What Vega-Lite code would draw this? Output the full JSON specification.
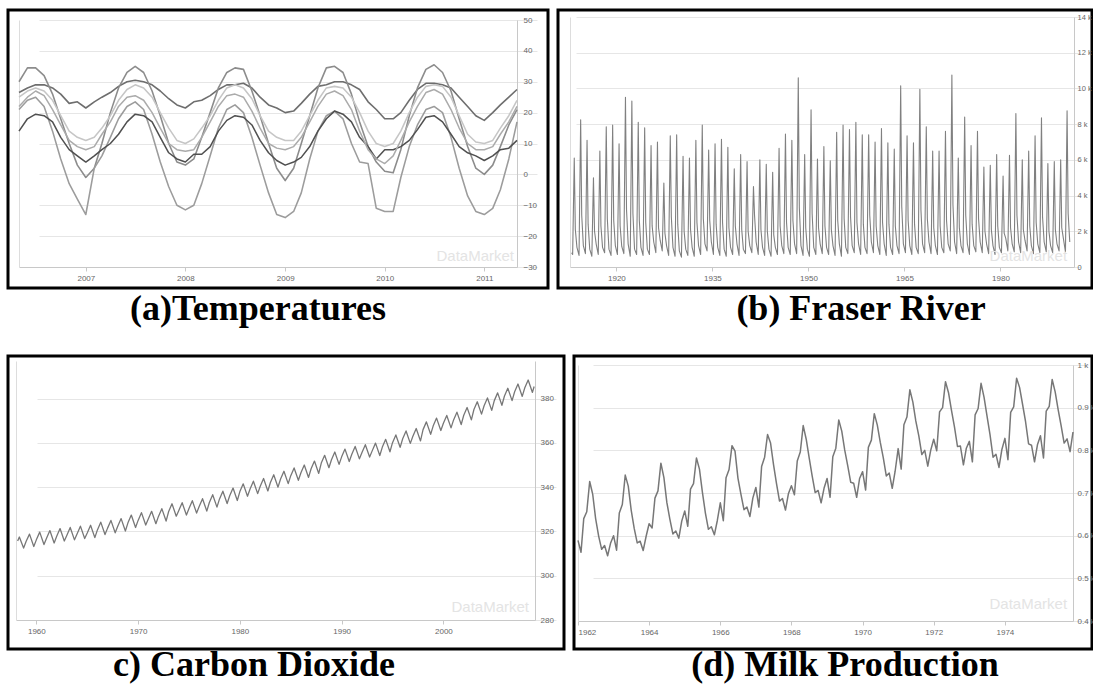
{
"$schema": "https://vega.github.io/schema/vega-lite/v6.json",
"padding": {"left": 6, "top": 8, "right": 0, "bottom": 0},
"background": "white",
"config": {
  "view": {"stroke": "#000000", "strokeWidth": 3},
  "axis": {"labelFont": "Liberation Sans", "labelFontSize": 8, "labelColor": "#666666", "title": null, "domainColor": "#c8c8c8", "tickColor": "#c8c8c8", "gridColor": "#e6e6e6"},
  "title": {"font": "Liberation Serif", "fontWeight": "bold", "fontSize": 36, "color": "#000000", "orient": "bottom", "anchor": "middle"},
  "line": {"strokeJoin": "round"},
  "text": {"font": "Liberation Sans", "fontSize": 15, "color": "#e4e4e4", "align": "right", "baseline": "middle"}
},
"datasets": {
"temps": [
{"d":"2006-05","s":"A","v":26.5},{"d":"2006-06","s":"A","v":28},{"d":"2006-07","s":"A","v":29},{"d":"2006-08","s":"A","v":29},{"d":"2006-09","s":"A","v":28},{"d":"2006-10","s":"A","v":26},{"d":"2006-11","s":"A","v":23},{"d":"2006-12","s":"A","v":23.5},
{"d":"2007-01","s":"A","v":21.5},{"d":"2007-02","s":"A","v":23.5},{"d":"2007-03","s":"A","v":25},{"d":"2007-04","s":"A","v":26.5},{"d":"2007-05","s":"A","v":28.5},{"d":"2007-06","s":"A","v":30},{"d":"2007-07","s":"A","v":30.5},{"d":"2007-08","s":"A","v":30},{"d":"2007-09","s":"A","v":29},{"d":"2007-10","s":"A","v":27},{"d":"2007-11","s":"A","v":24.5},{"d":"2007-12","s":"A","v":22.5},
{"d":"2008-01","s":"A","v":21.5},{"d":"2008-02","s":"A","v":23.5},{"d":"2008-03","s":"A","v":24},{"d":"2008-04","s":"A","v":25.5},{"d":"2008-05","s":"A","v":27.5},{"d":"2008-06","s":"A","v":29},{"d":"2008-07","s":"A","v":29},{"d":"2008-08","s":"A","v":29.5},{"d":"2008-09","s":"A","v":28},{"d":"2008-10","s":"A","v":25},{"d":"2008-11","s":"A","v":22.5},{"d":"2008-12","s":"A","v":21.5},
{"d":"2009-01","s":"A","v":20},{"d":"2009-02","s":"A","v":20.5},{"d":"2009-03","s":"A","v":23},{"d":"2009-04","s":"A","v":26},{"d":"2009-05","s":"A","v":28.5},{"d":"2009-06","s":"A","v":29},{"d":"2009-07","s":"A","v":30},{"d":"2009-08","s":"A","v":30},{"d":"2009-09","s":"A","v":29},{"d":"2009-10","s":"A","v":27.5},{"d":"2009-11","s":"A","v":23.5},{"d":"2009-12","s":"A","v":21},
{"d":"2010-01","s":"A","v":18},{"d":"2010-02","s":"A","v":18},{"d":"2010-03","s":"A","v":20},{"d":"2010-04","s":"A","v":24},{"d":"2010-05","s":"A","v":27.5},{"d":"2010-06","s":"A","v":29.5},{"d":"2010-07","s":"A","v":29.5},{"d":"2010-08","s":"A","v":29},{"d":"2010-09","s":"A","v":28},{"d":"2010-10","s":"A","v":25},{"d":"2010-11","s":"A","v":22},{"d":"2010-12","s":"A","v":19},
{"d":"2011-01","s":"A","v":17.5},{"d":"2011-02","s":"A","v":20},{"d":"2011-03","s":"A","v":22.5},{"d":"2011-04","s":"A","v":25},{"d":"2011-05","s":"A","v":27.5},
{"d":"2006-05","s":"B","v":30},{"d":"2006-06","s":"B","v":34.5},{"d":"2006-07","s":"B","v":34.5},{"d":"2006-08","s":"B","v":32},{"d":"2006-09","s":"B","v":26},{"d":"2006-10","s":"B","v":18},{"d":"2006-11","s":"B","v":10},{"d":"2006-12","s":"B","v":3},
{"d":"2007-01","s":"B","v":-1},{"d":"2007-02","s":"B","v":2},{"d":"2007-03","s":"B","v":10},{"d":"2007-04","s":"B","v":20},{"d":"2007-05","s":"B","v":28},{"d":"2007-06","s":"B","v":33},{"d":"2007-07","s":"B","v":35},{"d":"2007-08","s":"B","v":33},{"d":"2007-09","s":"B","v":27},{"d":"2007-10","s":"B","v":19},{"d":"2007-11","s":"B","v":10},{"d":"2007-12","s":"B","v":4},
{"d":"2008-01","s":"B","v":3},{"d":"2008-02","s":"B","v":5},{"d":"2008-03","s":"B","v":12},{"d":"2008-04","s":"B","v":20},{"d":"2008-05","s":"B","v":28},{"d":"2008-06","s":"B","v":33},{"d":"2008-07","s":"B","v":34.5},{"d":"2008-08","s":"B","v":34},{"d":"2008-09","s":"B","v":27},{"d":"2008-10","s":"B","v":19},{"d":"2008-11","s":"B","v":10},{"d":"2008-12","s":"B","v":2},
{"d":"2009-01","s":"B","v":-2},{"d":"2009-02","s":"B","v":2},{"d":"2009-03","s":"B","v":10},{"d":"2009-04","s":"B","v":19},{"d":"2009-05","s":"B","v":28},{"d":"2009-06","s":"B","v":34.5},{"d":"2009-07","s":"B","v":35},{"d":"2009-08","s":"B","v":33},{"d":"2009-09","s":"B","v":26},{"d":"2009-10","s":"B","v":17},{"d":"2009-11","s":"B","v":9},{"d":"2009-12","s":"B","v":4},
{"d":"2010-01","s":"B","v":1},{"d":"2010-02","s":"B","v":0.5},{"d":"2010-03","s":"B","v":8},{"d":"2010-04","s":"B","v":19},{"d":"2010-05","s":"B","v":28},{"d":"2010-06","s":"B","v":34},{"d":"2010-07","s":"B","v":35.5},{"d":"2010-08","s":"B","v":33},{"d":"2010-09","s":"B","v":27},{"d":"2010-10","s":"B","v":18},{"d":"2010-11","s":"B","v":9},{"d":"2010-12","s":"B","v":2},
{"d":"2011-01","s":"B","v":0},{"d":"2011-02","s":"B","v":3},{"d":"2011-03","s":"B","v":9},{"d":"2011-04","s":"B","v":16},{"d":"2011-05","s":"B","v":21},
{"d":"2006-05","s":"C","v":21},{"d":"2006-06","s":"C","v":24},{"d":"2006-07","s":"C","v":25},{"d":"2006-08","s":"C","v":22},{"d":"2006-09","s":"C","v":14},{"d":"2006-10","s":"C","v":5},{"d":"2006-11","s":"C","v":-3},{"d":"2006-12","s":"C","v":-8},
{"d":"2007-01","s":"C","v":-13},{"d":"2007-02","s":"C","v":2},{"d":"2007-03","s":"C","v":6},{"d":"2007-04","s":"C","v":12},{"d":"2007-05","s":"C","v":18},{"d":"2007-06","s":"C","v":22},{"d":"2007-07","s":"C","v":23.5},{"d":"2007-08","s":"C","v":21},{"d":"2007-09","s":"C","v":13},{"d":"2007-10","s":"C","v":4},{"d":"2007-11","s":"C","v":-4},{"d":"2007-12","s":"C","v":-10},
{"d":"2008-01","s":"C","v":-11.5},{"d":"2008-02","s":"C","v":-10},{"d":"2008-03","s":"C","v":-3},{"d":"2008-04","s":"C","v":6},{"d":"2008-05","s":"C","v":15},{"d":"2008-06","s":"C","v":21},{"d":"2008-07","s":"C","v":22.5},{"d":"2008-08","s":"C","v":20},{"d":"2008-09","s":"C","v":12},{"d":"2008-10","s":"C","v":3},{"d":"2008-11","s":"C","v":-6},{"d":"2008-12","s":"C","v":-13},
{"d":"2009-01","s":"C","v":-14},{"d":"2009-02","s":"C","v":-12},{"d":"2009-03","s":"C","v":-6},{"d":"2009-04","s":"C","v":5},{"d":"2009-05","s":"C","v":14},{"d":"2009-06","s":"C","v":19},{"d":"2009-07","s":"C","v":20.5},{"d":"2009-08","s":"C","v":18},{"d":"2009-09","s":"C","v":10},{"d":"2009-10","s":"C","v":4},{"d":"2009-11","s":"C","v":3.5},{"d":"2009-12","s":"C","v":-11},
{"d":"2010-01","s":"C","v":-12},{"d":"2010-02","s":"C","v":-12},{"d":"2010-03","s":"C","v":-1},{"d":"2010-04","s":"C","v":9},{"d":"2010-05","s":"C","v":16},{"d":"2010-06","s":"C","v":21},{"d":"2010-07","s":"C","v":22},{"d":"2010-08","s":"C","v":20},{"d":"2010-09","s":"C","v":12},{"d":"2010-10","s":"C","v":2},{"d":"2010-11","s":"C","v":-7},{"d":"2010-12","s":"C","v":-12},
{"d":"2011-01","s":"C","v":-13},{"d":"2011-02","s":"C","v":-11},{"d":"2011-03","s":"C","v":-5},{"d":"2011-04","s":"C","v":5},{"d":"2011-05","s":"C","v":17},
{"d":"2006-05","s":"D","v":25},{"d":"2006-06","s":"D","v":27},{"d":"2006-07","s":"D","v":28},{"d":"2006-08","s":"D","v":27},{"d":"2006-09","s":"D","v":24},{"d":"2006-10","s":"D","v":19},{"d":"2006-11","s":"D","v":14},{"d":"2006-12","s":"D","v":12},
{"d":"2007-01","s":"D","v":11},{"d":"2007-02","s":"D","v":12},{"d":"2007-03","s":"D","v":15},{"d":"2007-04","s":"D","v":19},{"d":"2007-05","s":"D","v":24},{"d":"2007-06","s":"D","v":27.5},{"d":"2007-07","s":"D","v":29},{"d":"2007-08","s":"D","v":28},{"d":"2007-09","s":"D","v":25},{"d":"2007-10","s":"D","v":20},{"d":"2007-11","s":"D","v":15},{"d":"2007-12","s":"D","v":11},
{"d":"2008-01","s":"D","v":10},{"d":"2008-02","s":"D","v":11.5},{"d":"2008-03","s":"D","v":15},{"d":"2008-04","s":"D","v":19},{"d":"2008-05","s":"D","v":24},{"d":"2008-06","s":"D","v":28},{"d":"2008-07","s":"D","v":29},{"d":"2008-08","s":"D","v":28},{"d":"2008-09","s":"D","v":24.5},{"d":"2008-10","s":"D","v":19},{"d":"2008-11","s":"D","v":14},{"d":"2008-12","s":"D","v":12},
{"d":"2009-01","s":"D","v":11},{"d":"2009-02","s":"D","v":11},{"d":"2009-03","s":"D","v":14},{"d":"2009-04","s":"D","v":19},{"d":"2009-05","s":"D","v":24},{"d":"2009-06","s":"D","v":28},{"d":"2009-07","s":"D","v":28.5},{"d":"2009-08","s":"D","v":28},{"d":"2009-09","s":"D","v":25},{"d":"2009-10","s":"D","v":20},{"d":"2009-11","s":"D","v":14},{"d":"2009-12","s":"D","v":10},
{"d":"2010-01","s":"D","v":9},{"d":"2010-02","s":"D","v":10},{"d":"2010-03","s":"D","v":14},{"d":"2010-04","s":"D","v":20},{"d":"2010-05","s":"D","v":25},{"d":"2010-06","s":"D","v":28.5},{"d":"2010-07","s":"D","v":29},{"d":"2010-08","s":"D","v":28.5},{"d":"2010-09","s":"D","v":25},{"d":"2010-10","s":"D","v":19},{"d":"2010-11","s":"D","v":13},{"d":"2010-12","s":"D","v":10.5},
{"d":"2011-01","s":"D","v":10},{"d":"2011-02","s":"D","v":11},{"d":"2011-03","s":"D","v":15},{"d":"2011-04","s":"D","v":19},{"d":"2011-05","s":"D","v":24},
{"d":"2006-05","s":"E","v":14},{"d":"2006-06","s":"E","v":18},{"d":"2006-07","s":"E","v":19.5},{"d":"2006-08","s":"E","v":19},{"d":"2006-09","s":"E","v":17},{"d":"2006-10","s":"E","v":12},{"d":"2006-11","s":"E","v":8},{"d":"2006-12","s":"E","v":6},
{"d":"2007-01","s":"E","v":4},{"d":"2007-02","s":"E","v":6},{"d":"2007-03","s":"E","v":8},{"d":"2007-04","s":"E","v":10},{"d":"2007-05","s":"E","v":13},{"d":"2007-06","s":"E","v":17},{"d":"2007-07","s":"E","v":19.5},{"d":"2007-08","s":"E","v":19},{"d":"2007-09","s":"E","v":17},{"d":"2007-10","s":"E","v":12},{"d":"2007-11","s":"E","v":7},{"d":"2007-12","s":"E","v":5},
{"d":"2008-01","s":"E","v":4},{"d":"2008-02","s":"E","v":6.5},{"d":"2008-03","s":"E","v":6.5},{"d":"2008-04","s":"E","v":9},{"d":"2008-05","s":"E","v":14},{"d":"2008-06","s":"E","v":17.5},{"d":"2008-07","s":"E","v":19},{"d":"2008-08","s":"E","v":18.5},{"d":"2008-09","s":"E","v":16},{"d":"2008-10","s":"E","v":11},{"d":"2008-11","s":"E","v":7},{"d":"2008-12","s":"E","v":4.5},
{"d":"2009-01","s":"E","v":3},{"d":"2009-02","s":"E","v":4},{"d":"2009-03","s":"E","v":5.5},{"d":"2009-04","s":"E","v":9},{"d":"2009-05","s":"E","v":14},{"d":"2009-06","s":"E","v":18},{"d":"2009-07","s":"E","v":20.5},{"d":"2009-08","s":"E","v":19.5},{"d":"2009-09","s":"E","v":17},{"d":"2009-10","s":"E","v":12},{"d":"2009-11","s":"E","v":9},{"d":"2009-12","s":"E","v":5},
{"d":"2010-01","s":"E","v":8},{"d":"2010-02","s":"E","v":8},{"d":"2010-03","s":"E","v":9},{"d":"2010-04","s":"E","v":11},{"d":"2010-05","s":"E","v":14.5},{"d":"2010-06","s":"E","v":18.5},{"d":"2010-07","s":"E","v":19},{"d":"2010-08","s":"E","v":17},{"d":"2010-09","s":"E","v":13},{"d":"2010-10","s":"E","v":9},{"d":"2010-11","s":"E","v":7},{"d":"2010-12","s":"E","v":6},
{"d":"2011-01","s":"E","v":4.5},{"d":"2011-02","s":"E","v":6},{"d":"2011-03","s":"E","v":8},{"d":"2011-04","s":"E","v":8.5},{"d":"2011-05","s":"E","v":11},
{"d":"2006-05","s":"F","v":22},{"d":"2006-06","s":"F","v":25},{"d":"2006-07","s":"F","v":27},{"d":"2006-08","s":"F","v":25.5},{"d":"2006-09","s":"F","v":21},{"d":"2006-10","s":"F","v":16},{"d":"2006-11","s":"F","v":11},{"d":"2006-12","s":"F","v":9},
{"d":"2007-01","s":"F","v":8},{"d":"2007-02","s":"F","v":9},{"d":"2007-03","s":"F","v":13},{"d":"2007-04","s":"F","v":17},{"d":"2007-05","s":"F","v":22},{"d":"2007-06","s":"F","v":25},{"d":"2007-07","s":"F","v":25.5},{"d":"2007-08","s":"F","v":24},{"d":"2007-09","s":"F","v":20},{"d":"2007-10","s":"F","v":15},{"d":"2007-11","s":"F","v":10},{"d":"2007-12","s":"F","v":8},
{"d":"2008-01","s":"F","v":7.5},{"d":"2008-02","s":"F","v":8},{"d":"2008-03","s":"F","v":12},{"d":"2008-04","s":"F","v":17},{"d":"2008-05","s":"F","v":22},{"d":"2008-06","s":"F","v":25.5},{"d":"2008-07","s":"F","v":26},{"d":"2008-08","s":"F","v":25},{"d":"2008-09","s":"F","v":20.5},{"d":"2008-10","s":"F","v":15},{"d":"2008-11","s":"F","v":10},{"d":"2008-12","s":"F","v":8.5},
{"d":"2009-01","s":"F","v":8},{"d":"2009-02","s":"F","v":9},{"d":"2009-03","s":"F","v":12},{"d":"2009-04","s":"F","v":17},{"d":"2009-05","s":"F","v":22},{"d":"2009-06","s":"F","v":26},{"d":"2009-07","s":"F","v":27},{"d":"2009-08","s":"F","v":25.5},{"d":"2009-09","s":"F","v":21},{"d":"2009-10","s":"F","v":14},{"d":"2009-11","s":"F","v":8},{"d":"2009-12","s":"F","v":5},
{"d":"2010-01","s":"F","v":3.5},{"d":"2010-02","s":"F","v":6},{"d":"2010-03","s":"F","v":11},{"d":"2010-04","s":"F","v":17},{"d":"2010-05","s":"F","v":22},{"d":"2010-06","s":"F","v":26.5},{"d":"2010-07","s":"F","v":27.5},{"d":"2010-08","s":"F","v":26},{"d":"2010-09","s":"F","v":21},{"d":"2010-10","s":"F","v":15},{"d":"2010-11","s":"F","v":10},{"d":"2010-12","s":"F","v":8},
{"d":"2011-01","s":"F","v":8},{"d":"2011-02","s":"F","v":9},{"d":"2011-03","s":"F","v":13},{"d":"2011-04","s":"F","v":17},{"d":"2011-05","s":"F","v":22}
],
"fraser": [
{"d":"1913-01","v":800},
{"d":"1913-03","v":700},{"d":"1913-06","v":6100},{"d":"1913-08","v":2100},{"d":"1913-11","v":1100},
{"d":"1914-03","v":650},{"d":"1914-06","v":8250},{"d":"1914-08","v":2900},{"d":"1914-11","v":1200},
{"d":"1915-03","v":750},{"d":"1915-06","v":7100},{"d":"1915-08","v":2400},{"d":"1915-11","v":1000},
{"d":"1916-03","v":600},{"d":"1916-06","v":5000},{"d":"1916-08","v":2000},{"d":"1916-11","v":1300},
{"d":"1917-03","v":700},{"d":"1917-06","v":6500},{"d":"1917-08","v":2300},{"d":"1917-11","v":1100},
{"d":"1918-03","v":800},{"d":"1918-06","v":7850},{"d":"1918-08","v":2700},{"d":"1918-11","v":1000},
{"d":"1919-03","v":650},{"d":"1919-06","v":7950},{"d":"1919-08","v":2600},{"d":"1919-11","v":1200},
{"d":"1920-03","v":700},{"d":"1920-06","v":6900},{"d":"1920-08","v":2300},{"d":"1920-11","v":1150},
{"d":"1921-03","v":750},{"d":"1921-06","v":9500},{"d":"1921-08","v":3200},{"d":"1921-11","v":1300},
{"d":"1922-03","v":600},{"d":"1922-06","v":9300},{"d":"1922-08","v":3000},{"d":"1922-11","v":1000},
{"d":"1923-03","v":700},{"d":"1923-06","v":8100},{"d":"1923-08","v":2600},{"d":"1923-11","v":1100},
{"d":"1924-03","v":650},{"d":"1924-06","v":7800},{"d":"1924-08","v":2500},{"d":"1924-11","v":1000},
{"d":"1925-03","v":700},{"d":"1925-06","v":6800},{"d":"1925-08","v":2300},{"d":"1925-11","v":1400},
{"d":"1926-03","v":800},{"d":"1926-06","v":7000},{"d":"1926-08","v":2200},{"d":"1926-11","v":1500},
{"d":"1927-03","v":900},{"d":"1927-06","v":4700},{"d":"1927-08","v":1900},{"d":"1927-11","v":1200},
{"d":"1928-03","v":650},{"d":"1928-06","v":7350},{"d":"1928-08","v":2800},{"d":"1928-11","v":1100},
{"d":"1929-03","v":600},{"d":"1929-06","v":7400},{"d":"1929-08","v":2400},{"d":"1929-11","v":900},
{"d":"1930-03","v":550},{"d":"1930-06","v":6200},{"d":"1930-08","v":2000},{"d":"1930-11","v":1000},
{"d":"1931-03","v":650},{"d":"1931-06","v":6100},{"d":"1931-08","v":2100},{"d":"1931-11","v":1100},
{"d":"1932-03","v":600},{"d":"1932-06","v":7100},{"d":"1932-08","v":2500},{"d":"1932-11","v":1200},
{"d":"1933-03","v":700},{"d":"1933-06","v":7950},{"d":"1933-08","v":2700},{"d":"1933-11","v":1300},
{"d":"1934-03","v":900},{"d":"1934-06","v":6550},{"d":"1934-08","v":2600},{"d":"1934-11","v":1400},
{"d":"1935-03","v":700},{"d":"1935-06","v":6900},{"d":"1935-08","v":2400},{"d":"1935-11","v":1100},
{"d":"1936-03","v":650},{"d":"1936-06","v":7150},{"d":"1936-08","v":2500},{"d":"1936-11","v":1000},
{"d":"1937-03","v":600},{"d":"1937-06","v":6700},{"d":"1937-08","v":2200},{"d":"1937-11","v":1100},
{"d":"1938-03","v":700},{"d":"1938-06","v":5500},{"d":"1938-08","v":2300},{"d":"1938-11","v":1300},
{"d":"1939-03","v":650},{"d":"1939-06","v":6300},{"d":"1939-08","v":2100},{"d":"1939-11","v":1000},
{"d":"1940-03","v":750},{"d":"1940-06","v":5900},{"d":"1940-08","v":2000},{"d":"1940-11","v":1200},
{"d":"1941-03","v":800},{"d":"1941-06","v":4500},{"d":"1941-08","v":2900},{"d":"1941-11","v":1400},
{"d":"1942-03","v":700},{"d":"1942-06","v":6000},{"d":"1942-08","v":2100},{"d":"1942-11","v":1100},
{"d":"1943-03","v":650},{"d":"1943-06","v":5750},{"d":"1943-08","v":2000},{"d":"1943-11","v":1000},
{"d":"1944-03","v":600},{"d":"1944-06","v":5300},{"d":"1944-08","v":1800},{"d":"1944-11","v":1100},
{"d":"1945-03","v":700},{"d":"1945-06","v":6650},{"d":"1945-08","v":2300},{"d":"1945-11","v":1200},
{"d":"1946-03","v":750},{"d":"1946-06","v":7450},{"d":"1946-08","v":2500},{"d":"1946-11","v":1100},
{"d":"1947-03","v":700},{"d":"1947-06","v":7100},{"d":"1947-08","v":2600},{"d":"1947-11","v":1300},
{"d":"1948-03","v":750},{"d":"1948-06","v":10600},{"d":"1948-08","v":3300},{"d":"1948-11","v":1200},
{"d":"1949-03","v":650},{"d":"1949-06","v":6300},{"d":"1949-08","v":2200},{"d":"1949-11","v":1000},
{"d":"1950-03","v":600},{"d":"1950-06","v":8800},{"d":"1950-08","v":3000},{"d":"1950-11","v":1100},
{"d":"1951-03","v":700},{"d":"1951-06","v":6050},{"d":"1951-08","v":2200},{"d":"1951-11","v":1300},
{"d":"1952-03","v":750},{"d":"1952-06","v":6750},{"d":"1952-08","v":2300},{"d":"1952-11","v":1100},
{"d":"1953-03","v":700},{"d":"1953-06","v":5950},{"d":"1953-08","v":2100},{"d":"1953-11","v":1200},
{"d":"1954-03","v":650},{"d":"1954-06","v":7550},{"d":"1954-08","v":2600},{"d":"1954-11","v":1300},
{"d":"1955-03","v":600},{"d":"1955-06","v":7950},{"d":"1955-08","v":2700},{"d":"1955-11","v":1100},
{"d":"1956-03","v":750},{"d":"1956-06","v":7700},{"d":"1956-08","v":2800},{"d":"1956-11","v":1200},
{"d":"1957-03","v":800},{"d":"1957-06","v":8100},{"d":"1957-08","v":2500},{"d":"1957-11","v":1300},
{"d":"1958-03","v":700},{"d":"1958-06","v":7400},{"d":"1958-08","v":2400},{"d":"1958-11","v":1100},
{"d":"1959-03","v":750},{"d":"1959-06","v":7400},{"d":"1959-08","v":2900},{"d":"1959-11","v":1400},
{"d":"1960-03","v":800},{"d":"1960-06","v":7000},{"d":"1960-08","v":2300},{"d":"1960-11","v":1200},
{"d":"1961-03","v":700},{"d":"1961-06","v":7750},{"d":"1961-08","v":2500},{"d":"1961-11","v":1300},
{"d":"1962-03","v":650},{"d":"1962-06","v":6950},{"d":"1962-08","v":2400},{"d":"1962-11","v":1100},
{"d":"1963-03","v":700},{"d":"1963-06","v":6600},{"d":"1963-08","v":2300},{"d":"1963-11","v":1200},
{"d":"1964-03","v":750},{"d":"1964-06","v":10150},{"d":"1964-08","v":3400},{"d":"1964-11","v":1300},
{"d":"1965-03","v":800},{"d":"1965-06","v":7350},{"d":"1965-08","v":2600},{"d":"1965-11","v":1200},
{"d":"1966-03","v":700},{"d":"1966-06","v":6950},{"d":"1966-08","v":2400},{"d":"1966-11","v":1100},
{"d":"1967-03","v":750},{"d":"1967-06","v":9950},{"d":"1967-08","v":3200},{"d":"1967-11","v":1300},
{"d":"1968-03","v":800},{"d":"1968-06","v":7850},{"d":"1968-08","v":2700},{"d":"1968-11","v":1400},
{"d":"1969-03","v":750},{"d":"1969-06","v":6500},{"d":"1969-08","v":2200},{"d":"1969-11","v":1200},
{"d":"1970-03","v":700},{"d":"1970-06","v":6500},{"d":"1970-08","v":2300},{"d":"1970-11","v":1100},
{"d":"1971-03","v":800},{"d":"1971-06","v":7600},{"d":"1971-08","v":2600},{"d":"1971-11","v":1300},
{"d":"1972-03","v":900},{"d":"1972-06","v":10750},{"d":"1972-08","v":3500},{"d":"1972-11","v":1400},
{"d":"1973-03","v":750},{"d":"1973-06","v":6100},{"d":"1973-08","v":2200},{"d":"1973-11","v":1200},
{"d":"1974-03","v":800},{"d":"1974-06","v":8400},{"d":"1974-08","v":2900},{"d":"1974-11","v":1300},
{"d":"1975-03","v":700},{"d":"1975-06","v":6800},{"d":"1975-08","v":2400},{"d":"1975-11","v":1200},
{"d":"1976-03","v":850},{"d":"1976-06","v":7600},{"d":"1976-08","v":2700},{"d":"1976-11","v":1400},
{"d":"1977-03","v":800},{"d":"1977-06","v":5600},{"d":"1977-08","v":2000},{"d":"1977-11","v":1300},
{"d":"1978-03","v":750},{"d":"1978-06","v":5700},{"d":"1978-08","v":2100},{"d":"1978-11","v":1200},
{"d":"1979-03","v":700},{"d":"1979-06","v":6300},{"d":"1979-08","v":2300},{"d":"1979-11","v":1100},
{"d":"1980-03","v":800},{"d":"1980-06","v":5100},{"d":"1980-08","v":1900},{"d":"1980-11","v":1600},
{"d":"1981-03","v":900},{"d":"1981-06","v":6250},{"d":"1981-08","v":2200},{"d":"1981-11","v":1300},
{"d":"1982-03","v":850},{"d":"1982-06","v":8600},{"d":"1982-08","v":2900},{"d":"1982-11","v":1400},
{"d":"1983-03","v":800},{"d":"1983-06","v":6000},{"d":"1983-08","v":2100},{"d":"1983-11","v":1500},
{"d":"1984-03","v":900},{"d":"1984-06","v":6500},{"d":"1984-08","v":2300},{"d":"1984-11","v":1200},
{"d":"1985-03","v":750},{"d":"1985-06","v":7350},{"d":"1985-08","v":2500},{"d":"1985-11","v":1300},
{"d":"1986-03","v":800},{"d":"1986-06","v":8350},{"d":"1986-08","v":2800},{"d":"1986-11","v":1400},
{"d":"1987-03","v":850},{"d":"1987-06","v":5800},{"d":"1987-08","v":2000},{"d":"1987-11","v":1200},
{"d":"1988-03","v":800},{"d":"1988-06","v":5900},{"d":"1988-08","v":2100},{"d":"1988-11","v":1300},
{"d":"1989-03","v":900},{"d":"1989-06","v":6000},{"d":"1989-08","v":2200},{"d":"1989-11","v":1600},
{"d":"1990-03","v":850},{"d":"1990-06","v":8750},{"d":"1990-08","v":3000},{"d":"1990-11","v":1400}
],
"co2": [
{"d":"1958-03","v":315.7},{"d":"1958-05","v":317.5},{"d":"1958-10","v":312.5},
{"d":"1959-01","v":315.6},{"d":"1959-05","v":318.8},{"d":"1959-10","v":313.2},
{"d":"1960-01","v":316.2},{"d":"1960-05","v":319.7},{"d":"1960-10","v":314.1},
{"d":"1961-01","v":316.9},{"d":"1961-05","v":320.4},{"d":"1961-10","v":314.8},
{"d":"1962-01","v":317.8},{"d":"1962-05","v":321.3},{"d":"1962-10","v":315.7},
{"d":"1963-01","v":318.3},{"d":"1963-05","v":321.8},{"d":"1963-10","v":316.2},
{"d":"1964-01","v":318.9},{"d":"1964-05","v":322.4},{"d":"1964-10","v":316.8},
{"d":"1965-01","v":319.3},{"d":"1965-05","v":322.8},{"d":"1965-10","v":317.2},
{"d":"1966-01","v":320.7},{"d":"1966-05","v":324.2},{"d":"1966-10","v":318.6},
{"d":"1967-01","v":321.5},{"d":"1967-05","v":325.0},{"d":"1967-10","v":319.4},
{"d":"1968-01","v":322.3},{"d":"1968-05","v":325.8},{"d":"1968-10","v":320.2},
{"d":"1969-01","v":323.9},{"d":"1969-05","v":327.4},{"d":"1969-10","v":321.8},
{"d":"1970-01","v":325.0},{"d":"1970-05","v":328.5},{"d":"1970-10","v":322.9},
{"d":"1971-01","v":325.6},{"d":"1971-05","v":329.1},{"d":"1971-10","v":323.5},
{"d":"1972-01","v":326.8},{"d":"1972-05","v":330.3},{"d":"1972-10","v":324.7},
{"d":"1973-01","v":329.0},{"d":"1973-05","v":332.5},{"d":"1973-10","v":326.9},
{"d":"1974-01","v":329.5},{"d":"1974-05","v":333.0},{"d":"1974-10","v":327.4},
{"d":"1975-01","v":330.4},{"d":"1975-05","v":333.9},{"d":"1975-10","v":328.3},
{"d":"1976-01","v":331.3},{"d":"1976-05","v":334.8},{"d":"1976-10","v":329.2},
{"d":"1977-01","v":333.1},{"d":"1977-05","v":336.6},{"d":"1977-10","v":331.0},
{"d":"1978-01","v":334.7},{"d":"1978-05","v":338.2},{"d":"1978-10","v":332.6},
{"d":"1979-01","v":336.1},{"d":"1979-05","v":339.6},{"d":"1979-10","v":334.0},
{"d":"1980-01","v":338.0},{"d":"1980-05","v":341.5},{"d":"1980-10","v":335.9},
{"d":"1981-01","v":339.2},{"d":"1981-05","v":342.7},{"d":"1981-10","v":337.1},
{"d":"1982-01","v":340.4},{"d":"1982-05","v":343.9},{"d":"1982-10","v":338.3},
{"d":"1983-01","v":342.1},{"d":"1983-05","v":345.6},{"d":"1983-10","v":340.0},
{"d":"1984-01","v":343.7},{"d":"1984-05","v":347.2},{"d":"1984-10","v":341.6},
{"d":"1985-01","v":345.2},{"d":"1985-05","v":348.7},{"d":"1985-10","v":343.1},
{"d":"1986-01","v":346.5},{"d":"1986-05","v":350.0},{"d":"1986-10","v":344.4},
{"d":"1987-01","v":348.3},{"d":"1987-05","v":351.8},{"d":"1987-10","v":346.2},
{"d":"1988-01","v":350.9},{"d":"1988-05","v":354.4},{"d":"1988-10","v":348.8},
{"d":"1989-01","v":352.4},{"d":"1989-05","v":355.9},{"d":"1989-10","v":350.3},
{"d":"1990-01","v":353.7},{"d":"1990-05","v":357.2},{"d":"1990-10","v":351.6},
{"d":"1991-01","v":354.9},{"d":"1991-05","v":358.4},{"d":"1991-10","v":352.8},
{"d":"1992-01","v":355.7},{"d":"1992-05","v":359.2},{"d":"1992-10","v":353.6},
{"d":"1993-01","v":356.4},{"d":"1993-05","v":359.9},{"d":"1993-10","v":354.3},
{"d":"1994-01","v":358.1},{"d":"1994-05","v":361.6},{"d":"1994-10","v":356.0},
{"d":"1995-01","v":360.1},{"d":"1995-05","v":363.6},{"d":"1995-10","v":358.0},
{"d":"1996-01","v":361.9},{"d":"1996-05","v":365.4},{"d":"1996-10","v":359.8},
{"d":"1997-01","v":363.0},{"d":"1997-05","v":366.5},{"d":"1997-10","v":360.9},
{"d":"1998-01","v":366.0},{"d":"1998-05","v":369.5},{"d":"1998-10","v":363.9},
{"d":"1999-01","v":367.7},{"d":"1999-05","v":371.2},{"d":"1999-10","v":365.6},
{"d":"2000-01","v":368.9},{"d":"2000-05","v":372.4},{"d":"2000-10","v":366.8},
{"d":"2001-01","v":370.4},{"d":"2001-05","v":373.9},{"d":"2001-10","v":368.3},
{"d":"2002-01","v":372.5},{"d":"2002-05","v":376.0},{"d":"2002-10","v":370.4},
{"d":"2003-01","v":375.1},{"d":"2003-05","v":378.6},{"d":"2003-10","v":373.0},
{"d":"2004-01","v":376.8},{"d":"2004-05","v":380.3},{"d":"2004-10","v":374.7},
{"d":"2005-01","v":379.1},{"d":"2005-05","v":382.6},{"d":"2005-10","v":377.0},
{"d":"2006-01","v":381.2},{"d":"2006-05","v":384.7},{"d":"2006-10","v":379.1},
{"d":"2007-01","v":383.1},{"d":"2007-05","v":386.6},{"d":"2007-10","v":381.0},
{"d":"2008-01","v":384.9},{"d":"2008-05","v":388.4},{"d":"2008-10","v":382.8},{"d":"2008-12","v":385.5}
],
"milk": [
{"d":"1962-01","v":589},{"d":"1962-02","v":561},{"d":"1962-03","v":640},{"d":"1962-04","v":656},{"d":"1962-05","v":727},{"d":"1962-06","v":697},{"d":"1962-07","v":640},{"d":"1962-08","v":599},{"d":"1962-09","v":568},{"d":"1962-10","v":577},{"d":"1962-11","v":553},{"d":"1962-12","v":582},
{"d":"1963-01","v":600},{"d":"1963-02","v":566},{"d":"1963-03","v":653},{"d":"1963-04","v":673},{"d":"1963-05","v":742},{"d":"1963-06","v":716},{"d":"1963-07","v":660},{"d":"1963-08","v":617},{"d":"1963-09","v":583},{"d":"1963-10","v":587},{"d":"1963-11","v":565},{"d":"1963-12","v":598},
{"d":"1964-01","v":628},{"d":"1964-02","v":618},{"d":"1964-03","v":688},{"d":"1964-04","v":705},{"d":"1964-05","v":770},{"d":"1964-06","v":736},{"d":"1964-07","v":678},{"d":"1964-08","v":639},{"d":"1964-09","v":604},{"d":"1964-10","v":611},{"d":"1964-11","v":594},{"d":"1964-12","v":634},
{"d":"1965-01","v":658},{"d":"1965-02","v":622},{"d":"1965-03","v":709},{"d":"1965-04","v":722},{"d":"1965-05","v":782},{"d":"1965-06","v":756},{"d":"1965-07","v":702},{"d":"1965-08","v":653},{"d":"1965-09","v":615},{"d":"1965-10","v":621},{"d":"1965-11","v":602},{"d":"1965-12","v":635},
{"d":"1966-01","v":677},{"d":"1966-02","v":635},{"d":"1966-03","v":736},{"d":"1966-04","v":755},{"d":"1966-05","v":811},{"d":"1966-06","v":798},{"d":"1966-07","v":735},{"d":"1966-08","v":697},{"d":"1966-09","v":661},{"d":"1966-10","v":667},{"d":"1966-11","v":645},{"d":"1966-12","v":688},
{"d":"1967-01","v":713},{"d":"1967-02","v":667},{"d":"1967-03","v":762},{"d":"1967-04","v":784},{"d":"1967-05","v":837},{"d":"1967-06","v":817},{"d":"1967-07","v":767},{"d":"1967-08","v":722},{"d":"1967-09","v":681},{"d":"1967-10","v":687},{"d":"1967-11","v":660},{"d":"1967-12","v":698},
{"d":"1968-01","v":717},{"d":"1968-02","v":696},{"d":"1968-03","v":775},{"d":"1968-04","v":796},{"d":"1968-05","v":858},{"d":"1968-06","v":826},{"d":"1968-07","v":783},{"d":"1968-08","v":740},{"d":"1968-09","v":701},{"d":"1968-10","v":706},{"d":"1968-11","v":677},{"d":"1968-12","v":711},
{"d":"1969-01","v":734},{"d":"1969-02","v":690},{"d":"1969-03","v":785},{"d":"1969-04","v":805},{"d":"1969-05","v":871},{"d":"1969-06","v":845},{"d":"1969-07","v":801},{"d":"1969-08","v":764},{"d":"1969-09","v":725},{"d":"1969-10","v":723},{"d":"1969-11","v":690},{"d":"1969-12","v":734},
{"d":"1970-01","v":750},{"d":"1970-02","v":707},{"d":"1970-03","v":807},{"d":"1970-04","v":824},{"d":"1970-05","v":886},{"d":"1970-06","v":859},{"d":"1970-07","v":819},{"d":"1970-08","v":783},{"d":"1970-09","v":740},{"d":"1970-10","v":747},{"d":"1970-11","v":711},{"d":"1970-12","v":751},
{"d":"1971-01","v":804},{"d":"1971-02","v":756},{"d":"1971-03","v":860},{"d":"1971-04","v":878},{"d":"1971-05","v":942},{"d":"1971-06","v":913},{"d":"1971-07","v":869},{"d":"1971-08","v":834},{"d":"1971-09","v":790},{"d":"1971-10","v":800},{"d":"1971-11","v":763},{"d":"1971-12","v":800},
{"d":"1972-01","v":826},{"d":"1972-02","v":799},{"d":"1972-03","v":890},{"d":"1972-04","v":900},{"d":"1972-05","v":961},{"d":"1972-06","v":935},{"d":"1972-07","v":894},{"d":"1972-08","v":855},{"d":"1972-09","v":809},{"d":"1972-10","v":810},{"d":"1972-11","v":766},{"d":"1972-12","v":805},
{"d":"1973-01","v":821},{"d":"1973-02","v":773},{"d":"1973-03","v":883},{"d":"1973-04","v":898},{"d":"1973-05","v":957},{"d":"1973-06","v":924},{"d":"1973-07","v":881},{"d":"1973-08","v":837},{"d":"1973-09","v":784},{"d":"1973-10","v":791},{"d":"1973-11","v":760},{"d":"1973-12","v":802},
{"d":"1974-01","v":828},{"d":"1974-02","v":778},{"d":"1974-03","v":889},{"d":"1974-04","v":902},{"d":"1974-05","v":969},{"d":"1974-06","v":947},{"d":"1974-07","v":908},{"d":"1974-08","v":867},{"d":"1974-09","v":815},{"d":"1974-10","v":812},{"d":"1974-11","v":773},{"d":"1974-12","v":813},
{"d":"1975-01","v":834},{"d":"1975-02","v":782},{"d":"1975-03","v":892},{"d":"1975-04","v":903},{"d":"1975-05","v":966},{"d":"1975-06","v":937},{"d":"1975-07","v":896},{"d":"1975-08","v":858},{"d":"1975-09","v":817},{"d":"1975-10","v":827},{"d":"1975-11","v":797},{"d":"1975-12","v":843}
]
},
"spacing": 25,
"vconcat": [
{
"spacing": 6,
"hconcat": [
{
"width": 540, "height": 278,
"title": {"text": "(a)Temperatures", "dx": -20, "offset": 4},
"layer": [
{
"data": {"name": "temps"},
"mark": {"type": "line"},
"encoding": {
"x": {"field": "d", "type": "temporal", "scale": {"type": "utc", "domain": [{"year": 2006, "month": 5, "date": 1, "utc": true}, {"year": 2011, "month": 5, "date": 1, "utc": true}], "range": [11, 509]}, "axis": {"values": [{"year": 2007, "utc": true}, {"year": 2008, "utc": true}, {"year": 2009, "utc": true}, {"year": 2010, "utc": true}, {"year": 2011, "utc": true}], "format": "%Y", "offset": -21, "grid": false, "tickSize": 4, "labelPadding": 3, "labelFlush": 4}},
"y": {"field": "v", "type": "quantitative", "scale": {"domain": [-30, 50], "range": [257, 10], "nice": false, "zero": false}, "axis": {"orient": "right", "offset": -31, "values": [-30, -20, -10, 0, 10, 20, 30, 40, 50], "grid": true, "ticks": false, "labelPadding": 6}},
"color": {"field": "s", "type": "nominal", "scale": {"domain": ["A", "B", "C", "D", "E", "F"], "range": ["#6e6e6e", "#8c8c8c", "#9c9c9c", "#c6c6c6", "#505050", "#ababab"]}, "legend": null},
"strokeWidth": {"field": "s", "type": "nominal", "scale": {"domain": ["A", "B", "C", "D", "E", "F"], "range": [1.6, 1.5, 1.3, 1.6, 2, 1.5]}, "legend": null}
}
},
{
"data": {"values": [{}]},
"mark": {"type": "text", "text": "DataMarket"},
"encoding": {
"x": {"datum": {"year": 2011, "month": 4, "date": 20, "utc": true}, "type": "temporal"},
"y": {"datum": -26.5, "type": "quantitative", "axis": {"orient": "left", "offset": -11, "labels": false, "ticks": false, "grid": false, "domainColor": "#dddddd"}}
}
}
],
"resolve": {"axis": {"y": "independent"}}
},
{
"width": 534, "height": 278,
"title": {"text": "(b) Fraser River", "dx": 36, "offset": 4},
"layer": [
{
"data": {"name": "fraser"},
"mark": {"type": "line", "color": "#808080", "strokeWidth": 1.1},
"encoding": {
"x": {"field": "d", "type": "temporal", "scale": {"type": "utc", "domain": [{"year": 1912, "month": 10, "date": 1, "utc": true}, {"year": 1991, "month": 7, "date": 1, "utc": true}], "range": [12, 516]}, "axis": {"values": [{"year": 1920, "utc": true}, {"year": 1935, "utc": true}, {"year": 1950, "utc": true}, {"year": 1965, "utc": true}, {"year": 1980, "utc": true}], "format": "%Y", "offset": -21, "grid": false, "tickSize": 4, "labelPadding": 3, "labelFlush": 4}},
"y": {"field": "v", "type": "quantitative", "scale": {"domain": [0, 14000], "range": [257, 7], "nice": false, "zero": false}, "axis": {"orient": "right", "offset": -18, "values": [0, 2000, 4000, 6000, 8000, 10000, 12000, 14000], "labelExpr": "datum.value == 0 ? '0' : (datum.value / 1000) + ' k'", "grid": true, "ticks": false, "labelPadding": 3, "labelFontSize": 7.5}}
}
},
{
"data": {"values": [{}]},
"mark": {"type": "text", "text": "DataMarket"},
"encoding": {
"x": {"datum": {"year": 1990, "month": 6, "date": 1, "utc": true}, "type": "temporal"},
"y": {"datum": 600, "type": "quantitative", "axis": {"orient": "left", "offset": -12, "labels": false, "ticks": false, "grid": false, "domainColor": "#dddddd"}}
}
}
],
"resolve": {"axis": {"y": "independent"}}
}
]
},
{
"spacing": 6,
"hconcat": [
{
"width": 556, "height": 293,
"title": {"text": "c) Carbon Dioxide", "dx": -32, "offset": -1},
"layer": [
{
"data": {"name": "co2"},
"mark": {"type": "line", "color": "#777777", "strokeWidth": 1.3},
"encoding": {
"x": {"field": "d", "type": "temporal", "scale": {"type": "utc", "domain": [{"year": 1958, "month": 1, "date": 1, "utc": true}, {"year": 2009, "month": 1, "date": 1, "utc": true}], "range": [8, 527]}, "axis": {"values": [{"year": 1960, "utc": true}, {"year": 1970, "utc": true}, {"year": 1980, "utc": true}, {"year": 1990, "utc": true}, {"year": 2000, "utc": true}], "format": "%Y", "offset": -29, "grid": false, "tickSize": 4, "labelPadding": 3, "labelFlush": 4}},
"y": {"field": "v", "type": "quantitative", "scale": {"domain": [280, 397], "range": [264, 5], "nice": false, "zero": false}, "axis": {"orient": "right", "offset": -29, "values": [280, 300, 320, 340, 360, 380], "grid": true, "ticks": false, "labelPadding": 5}}
}
},
{
"data": {"values": [{}]},
"mark": {"type": "text", "text": "DataMarket"},
"encoding": {
"x": {"datum": {"year": 2008, "month": 6, "date": 1, "utc": true}, "type": "temporal"},
"y": {"datum": 286, "type": "quantitative", "axis": {"orient": "left", "offset": -8, "labels": false, "ticks": false, "grid": false, "domainColor": "#dddddd"}}
}
}
],
"resolve": {"axis": {"y": "independent"}}
},
{
"width": 518, "height": 293,
"title": {"text": "(d) Milk Production", "dx": 12, "offset": -1},
"layer": [
{
"data": {"name": "milk"},
"mark": {"type": "line", "color": "#777777", "strokeWidth": 1.5},
"encoding": {
"x": {"field": "d", "type": "temporal", "scale": {"type": "utc", "domain": [{"year": 1962, "month": 1, "date": 1, "utc": true}, {"year": 1975, "month": 12, "date": 1, "utc": true}], "range": [4, 499]}, "axis": {"values": [{"year": 1962, "utc": true}, {"year": 1964, "utc": true}, {"year": 1966, "utc": true}, {"year": 1968, "utc": true}, {"year": 1970, "utc": true}, {"year": 1972, "utc": true}, {"year": 1974, "utc": true}], "format": "%Y", "offset": -28, "grid": false, "tickSize": 4, "labelPadding": 3, "labelFlush": 4}},
"y": {"field": "v", "type": "quantitative", "scale": {"domain": [400, 1000], "range": [265, 9], "nice": false, "zero": false}, "axis": {"orient": "right", "offset": -19, "values": [400, 500, 600, 700, 800, 900, 1000], "labelExpr": "format(datum.value / 1000, '.1~f') + ' k'", "grid": true, "ticks": false, "labelPadding": 4}}
}
},
{
"data": {"values": [{}]},
"mark": {"type": "text", "text": "DataMarket"},
"encoding": {
"x": {"datum": {"year": 1975, "month": 10, "date": 1, "utc": true}, "type": "temporal"},
"y": {"datum": 440, "type": "quantitative", "axis": {"orient": "left", "offset": -4, "labels": false, "ticks": false, "grid": false, "domainColor": "#dddddd"}}
}
}
],
"resolve": {"axis": {"y": "independent"}}
}
]
}
]
}
